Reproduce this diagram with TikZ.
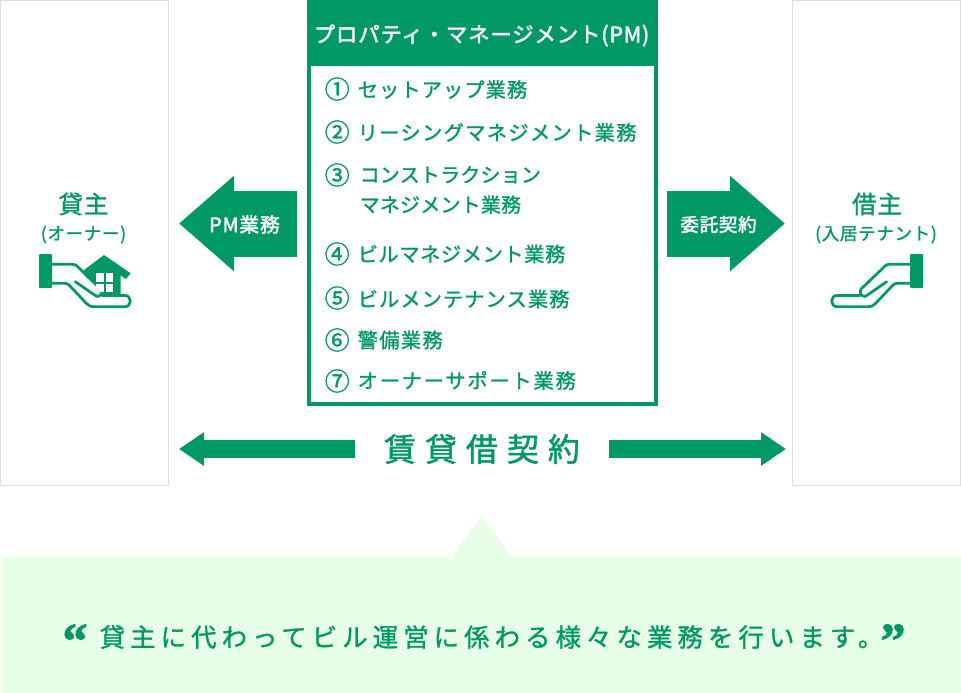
\documentclass[tikz,border=0pt]{standalone}
\usepackage{fontspec}
\usepackage{tikz}
\usetikzlibrary{arrows.meta,positioning}

\newfontfamily\jplist{Noto Sans CJK JP}[FakeBold=1.2,LetterSpace=5]
\newfontfamily\jpmid{Noto Sans CJK JP}[FakeBold=1.2,LetterSpace=6.3]
\newfontfamily\jpwider{Noto Sans CJK JP}[FakeBold=1.2,LetterSpace=8.5]
\newfontfamily\jpnarrow{Noto Sans CJK JP}[FakeBold=1.2,LetterSpace=2.5]
\newfontfamily\jptight{Noto Sans CJK JP}[FakeBold=1.2,LetterSpace=1]
\newfontfamily\jptitle{Noto Sans CJK JP}[FakeBold=1.2,LetterSpace=4]
\newfontfamily\jpwhite{Noto Sans CJK JP}[FakeBold=2.2,LetterSpace=4]
\newfontfamily\jpwide{Noto Sans CJK JP}[FakeBold=1.5,LetterSpace=28]
\newfontfamily\jpnote{Noto Sans CJK JP}[FakeBold=1.2,LetterSpace=20]
\newfontfamily\quotefont{Liberation Serif Bold}[FakeBold=2]

\definecolor{pmgreen}{HTML}{009966}
\definecolor{notegreen}{HTML}{E6FFE6}
\definecolor{boxgrey}{HTML}{DDDDDD}

\tikzset{
  party/.style={draw=boxgrey,line width=1pt,minimum width=168pt,minimum height=485pt,inner sep=0pt},
  partyname/.style={font=\jptitle\fontsize{24.5}{24.5}\selectfont,text=pmgreen,inner sep=0pt},
  partysub/.style={font=\jptitle\fontsize{17.5}{17.5}\selectfont,text=pmgreen,inner sep=0pt},
  fatarrow/.style={line width=66pt,draw=pmgreen,-{Triangle[length=55pt,width=92pt]}},
  thinarrow/.style={line width=18pt,draw=pmgreen,-{Triangle[length=25pt,width=32pt]}},
  arrowlabel/.style={font=\jpwhite\fontsize{18.5}{18.5}\selectfont,text=white,inner sep=0pt},
  itemnum/.style={font=\jptight\fontsize{25}{25}\selectfont,text=pmgreen,inner sep=0pt,anchor=west},
  itemtext/.style={font=\jplist\fontsize{20.3}{30}\selectfont,text=pmgreen,inner sep=0pt,align=left,anchor=west},
  handline/.style={draw=pmgreen,line width=2.7pt,line join=round,line cap=round},
  openhand/.pic={
    \fill[pmgreen,rounded corners=1pt] (910,254) rectangle (923,288);
    \draw[handline] (910,264.3) -- (890,264.3) .. controls (886,264.3) and (885,266) .. (882,269) -- (861,289)
      .. controls (859,292) and (861,296.5) .. (865,296.5) -- (869,294) -- (886.7,281.7);
    \draw[handline] (860,295.5) -- (837,295.5) .. controls (830,295.5) and (830,306.7) .. (837,306.7) -- (868,306.7)
      .. controls (872,306.7) and (874,305) .. (876,303) -- (892,286) .. controls (894,284) and (895,283.3) .. (897,283.3) -- (910,283.3);
  }
}

\begin{document}
\begin{tikzpicture}[x=1pt,y=-1pt]
  \useasboundingbox (0,0) rectangle (961,693);

  \node[party] (lessor) at (84.5,243) {};
  \node[party] (tenant) at (876.5,243) {};

  \node[draw=pmgreen,line width=4pt,minimum width=347pt,minimum height=402pt] (pmbox) at (482.5,203) {};
  \fill[pmgreen] (pmbox.north west) rectangle (658,66);
  \node[font=\jpwhite\fontsize{21.4}{21.4}\selectfont,text=white,inner sep=0pt] (pmtitle) at (481.5,35.5) {プロパティ・マネージメント(PM)};

  % work items
  \node[itemnum] (n1) at (324.5,89) {①};
  \node[itemnum] (n2) at (324.5,132) {②};
  \node[itemnum] (n3) at (324.5,175) {③};
  \node[itemnum] (n4) at (324.5,254) {④};
  \node[itemnum] (n5) at (324.5,298) {⑤};
  \node[itemnum] (n6) at (324.5,340) {⑥};
  \node[itemnum] (n7) at (324.5,381) {⑦};
  \node[itemtext] (t1) at (357.5,89.5) {セットアップ業務};
  \node[itemtext,font=\jpmid\fontsize{20.3}{30}\selectfont] (t2) at (357.5,132.5) {リーシングマネジメント業務};
  \node[itemtext,font=\jptight\fontsize{20}{30}\selectfont] (t3) at (359.5,190) {コンストラクション\\マネジメント業務};
  \node[itemtext,font=\jpnarrow\fontsize{20.3}{30}\selectfont] (t4) at (357.5,254) {ビルマネジメント業務};
  \node[itemtext] (t5) at (357.5,299) {ビルメンテナンス業務};
  \node[itemtext,font=\jpmid\fontsize{20.3}{30}\selectfont] (t6) at (357.5,340) {警備業務};
  \node[itemtext,font=\jpwider\fontsize{20.3}{30}\selectfont] (t7) at (357.5,380.5) {オーナーサポート業務};

  % left and right party
  \node[partyname] (lessorname) at (83.5,204) {貸主};
  \node[partysub] (lessorsub) at (83.5,234.5) {(オーナー)};
  \node[partyname] (tenantname) at (877,204) {借主};
  \node[partysub] (tenantsub) at (876,234.5) {(入居テナント)};

  \pic at (0,0) {openhand};
  \pic[xscale=-1] at (962,0) {openhand};
  \fill[pmgreen] (104,255) -- (130.7,273.3) -- (126,279) -- (120.7,275.7) -- (120.7,294.3) -- (101,294.3) -- (101,291) -- (84,275) -- (84,270) -- cycle;
  \fill[white] (95.7,273.3) rectangle (113.3,291.7);
  \draw[pmgreen,line width=2pt] (104.5,273.3) -- (104.5,291.7) (95.7,282.5) -- (113.3,282.5);

  % arrows
  \coordinate (fatrow) at (0,223.5);
  \draw[fatarrow,shorten <=10pt,shorten >=10pt] (pmbox.west |- fatrow) -- (lessor.east |- fatrow);
  \draw[fatarrow,shorten <=9pt,shorten >=7pt] (pmbox.east |- fatrow) -- (tenant.west |- fatrow);
  \node[arrowlabel,font=\jpwhite\fontsize{19.8}{19.8}\selectfont] (pmlabel) at (244.5,224.5) {PM業務};
  \node[arrowlabel] (entrust) at (718.5,224.5) {委託契約};

  \node[font=\jpwide\fontsize{32}{32}\selectfont,text=pmgreen,inner sep=0pt,minimum width=254pt,minimum height=20pt] (contract) at (482,449) {賃貸借契約};
  \draw[thinarrow,shorten >=10pt] (contract.west) -- (contract.west -| lessor.east);
  \draw[thinarrow,shorten >=6pt] (contract.east) -- (contract.east -| tenant.west);

  % note at the bottom
  \fill[notegreen] (2,557) -- (452,557) -- (481,516) -- (512,557) -- (961,557) -- (961,693) -- (2,693) -- cycle;
  \node[font=\jpnote\fontsize{25.4}{25.4}\selectfont,text=pmgreen,inner sep=0pt,anchor=west] (note) at (99.5,637) {貸主に代わってビル運営に係わる様々な業務を行います。};
  \node[font=\quotefont\fontsize{50}{50}\selectfont,text=pmgreen,inner sep=0pt] (openq) at (75,641) {“};
  \node[font=\quotefont\fontsize{50}{50}\selectfont,text=pmgreen,inner sep=0pt] (closeq) at (893,641) {”};
\end{tikzpicture}
\end{document}
